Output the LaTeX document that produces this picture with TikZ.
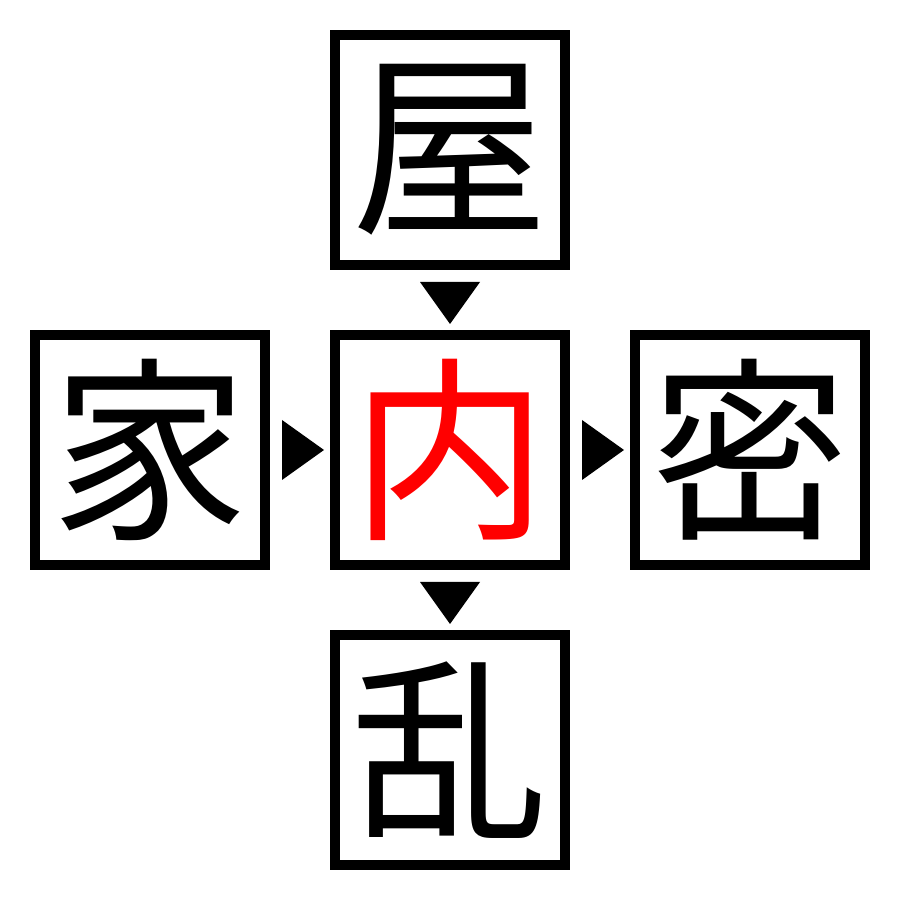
\documentclass[tikz,border=0pt]{standalone}
\usepackage{fontspec}
\newfontfamily\cjk{Noto Sans CJK JP}
\usetikzlibrary{calc}
\tikzset{
  charbox/.style={draw=black, line width=0.1cm, minimum size=2.3cm, inner sep=0pt, font=\cjk\fontsize{56}{56}\selectfont, text=black},
  marker/.style={fill=black}
}
\begin{document}
\begin{tikzpicture}
\useasboundingbox (0,0) rectangle (9,9);
\node[charbox] (top) at (4.5,7.5) {屋};
\node[charbox] (left) at (1.5,4.5) {家};
\node[charbox, text=red] (mid) at (4.5,4.5) {内};
\node[charbox] (right) at (7.5,4.5) {密};
\node[charbox] (bot) at (4.5,1.5) {乱};
\fill[marker] ($(top.south)+(-0.3,-0.12)$) -- ($(top.south)+(0.3,-0.12)$) -- ($(mid.north)+(0,0.06)$) -- cycle;
\fill[marker] ($(mid.south)+(-0.3,-0.12)$) -- ($(mid.south)+(0.3,-0.12)$) -- ($(bot.north)+(0,0.06)$) -- cycle;
\fill[marker] ($(left.east)+(0.12,0.3)$) -- ($(left.east)+(0.12,-0.3)$) -- ($(mid.west)+(-0.06,0)$) -- cycle;
\fill[marker] ($(mid.east)+(0.12,0.3)$) -- ($(mid.east)+(0.12,-0.3)$) -- ($(right.west)+(-0.06,0)$) -- cycle;
\end{tikzpicture}
\end{document}
